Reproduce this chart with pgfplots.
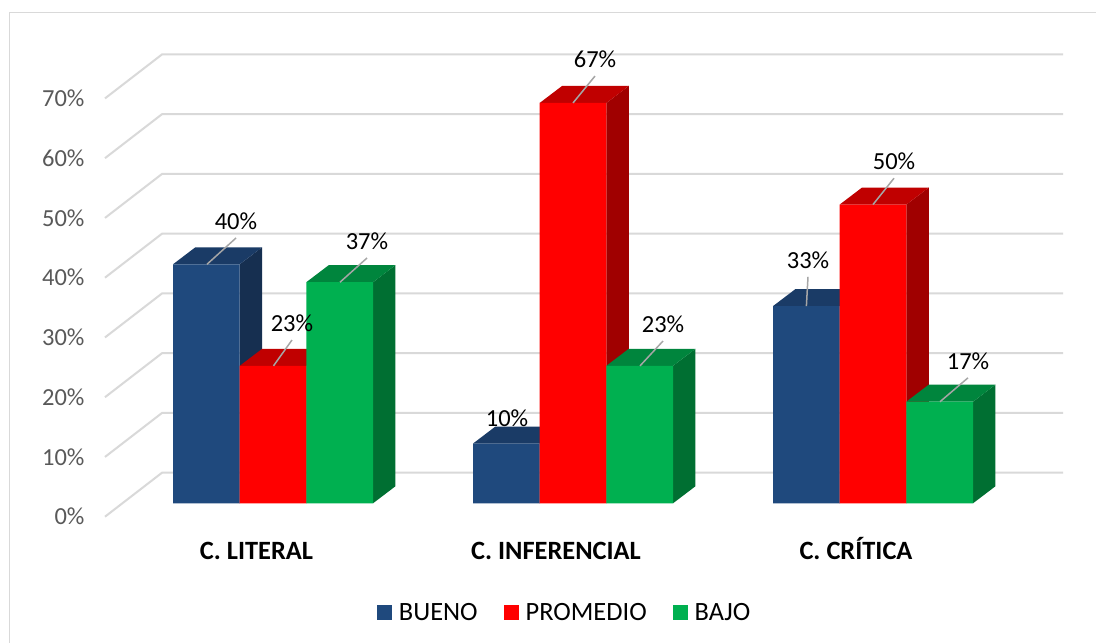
\documentclass[border=0pt]{standalone}
\usepackage{fontspec}
\setmainfont{Carlito}
\usepackage{pgfplots}
\pgfplotsset{compat=1.18}

\definecolor{azul}{HTML}{1F497D}
\definecolor{azultop}{HTML}{1A3B66}
\definecolor{azulside}{HTML}{162F50}
\definecolor{rojo}{HTML}{FF0000}
\definecolor{rojotop}{HTML}{C00000}
\definecolor{rojoside}{HTML}{A00000}
\definecolor{verde}{HTML}{00B050}
\definecolor{verdetop}{HTML}{00853D}
\definecolor{verdeside}{HTML}{006F32}
\definecolor{rejilla}{HTML}{D9D9D9}
\definecolor{guia}{HTML}{A6A6A6}
\definecolor{marco}{HTML}{D9D9D9}
\definecolor{eje}{HTML}{595959}

% side and top face of one bar: left x, value, side colour, top colour
\newcommand{\caras}[4]{%
  \pgfmathsetmacro\xr{#1+66.7}%
  \pgfmathsetmacro\xrb{#1+89.1}%
  \pgfmathsetmacro\xlb{#1+22.4}%
  \pgfmathsetmacro\vb{#2+2.85}%
  \edef\temp{\noexpand\addplot[forget plot,fill=#3,draw=none] coordinates
    {(\xr,0)(\xrb,2.85)(\xrb,\vb)(\xr,#2)} -- cycle;
    \noexpand\addplot[forget plot,fill=#4,draw=none] coordinates
    {(#1,#2)(\xlb,\vb)(\xrb,\vb)(\xr,#2)} -- cycle;}%
  \temp}

% leader line from the bar to its label
\newcommand{\etiqueta}[6][guia]{%
  \addplot[forget plot,draw=#1,line width=1.5pt] coordinates {(#2,#3)(#4,#5)}
    node[pos=1,yshift=17pt,inner sep=0pt,font=\fontsize{24.5}{29}\selectfont,text=black] {#6};}

\begin{document}
\begin{tikzpicture}[x=1pt,y=1pt]
\useasboundingbox (0,0) rectangle (1096,643);
\fill[white] (0,0) rectangle (1096,643);
\draw[marco,line width=1.6pt] (1096,630.5) -- (9.5,630.5) -- (9.5,0);
\begin{axis}[
  at={(105pt,126.3pt)}, anchor=south west,
  scale only axis, width=958pt, height=462.2pt,
  xmin=105, xmax=1063, ymin=-2.24, ymax=75.11,
  clip=false,
  axis line style={draw=none},
  major tick length=0pt,
  xtick={256.5,556,856},
  xticklabels={C. LITERAL,C. INFERENCIAL,C. CRÍTICA},
  xticklabel style={font=\fontsize{26.4}{31}\selectfont\bfseries,text=black,anchor=base,yshift=-43pt},
  ytick={-2.24,7.76,17.76,27.76,37.76,47.76,57.76,67.76},
  yticklabels={0\%,10\%,20\%,30\%,40\%,50\%,60\%,70\%},
  yticklabel style={font=\fontsize{24.5}{29}\selectfont,text=eje,xshift=-17pt},
  legend columns=3,
  legend style={at={(0.4798,-0.2082)},anchor=center,draw=none,fill=none,
    font=\fontsize{26.4}{31}\selectfont,inner sep=0pt,
    /tikz/every odd column/.append style={column sep=5pt},
    /tikz/every even column/.append style={column sep=24pt}},
]
% back wall and left wall grid
\addplot[forget plot,draw=rejilla,line width=2pt] coordinates {(105,-2.24)(162,5.12)(1063,5.12)};
\addplot[forget plot,draw=rejilla,line width=2pt] coordinates {(105,7.76)(162,15.12)(1063,15.12)};
\addplot[forget plot,draw=rejilla,line width=2pt] coordinates {(105,17.76)(162,25.12)(1063,25.12)};
\addplot[forget plot,draw=rejilla,line width=2pt] coordinates {(105,27.76)(162,35.12)(1063,35.12)};
\addplot[forget plot,draw=rejilla,line width=2pt] coordinates {(105,37.76)(162,45.12)(1063,45.12)};
\addplot[forget plot,draw=rejilla,line width=2pt] coordinates {(105,47.76)(162,55.12)(1063,55.12)};
\addplot[forget plot,draw=rejilla,line width=2pt] coordinates {(105,57.76)(162,65.12)(1063,65.12)};
\addplot[forget plot,draw=rejilla,line width=2pt] coordinates {(105,67.76)(162,75.12)(1063,75.12)};

% BUENO
\caras{173}{40}{azulside}{azultop}
\caras{473}{10}{azulside}{azultop}
\caras{773}{33}{azulside}{azultop}
\addplot[ybar,bar width=66.7pt,bar shift=0pt,fill=azul,draw=none,
  legend image code/.code={\fill[azul] (0pt,-7.5pt) rectangle (15pt,7.5pt);}]
  coordinates {(206.35,40)(506.35,10)(806.35,33)};
\addlegendentry{BUENO}

% PROMEDIO
\caras{239.7}{23}{rojoside}{rojotop}
\caras{539.7}{67}{rojoside}{rojotop}
\caras{839.7}{50}{rojoside}{rojotop}
\addplot[ybar,bar width=66.7pt,bar shift=0pt,fill=rojo,draw=none,
  legend image code/.code={\fill[rojo] (0pt,-7.5pt) rectangle (15pt,7.5pt);}]
  coordinates {(273.05,23)(573.05,67)(873.05,50)};
\addlegendentry{PROMEDIO}

% BAJO
\caras{306.3}{37}{verdeside}{verdetop}
\caras{606.3}{23}{verdeside}{verdetop}
\caras{906.3}{17}{verdeside}{verdetop}
\addplot[ybar,bar width=66.7pt,bar shift=0pt,fill=verde,draw=none,
  legend image code/.code={\fill[verde] (0pt,-7.5pt) rectangle (15pt,7.5pt);}]
  coordinates {(339.65,37)(639.65,23)(939.65,17)};
\addlegendentry{BAJO}

% labels
\etiqueta{207}{40}{236}{44.4}{40\%}
\etiqueta{273.5}{23}{292}{27.33}{23\%}
\etiqueta{340}{37}{367}{41.05}{37\%}
\etiqueta[none]{507}{10}{507}{11.43}{10\%}
\etiqueta{573}{67}{595}{71.5}{67\%}
\etiqueta{640}{23}{663}{27.16}{23\%}
\etiqueta{806.4}{33}{808}{37.9}{33\%}
\etiqueta{873}{50}{894}{54.4}{50\%}
\etiqueta{940}{17}{968}{21}{17\%}
\end{axis}
\end{tikzpicture}
\end{document}
